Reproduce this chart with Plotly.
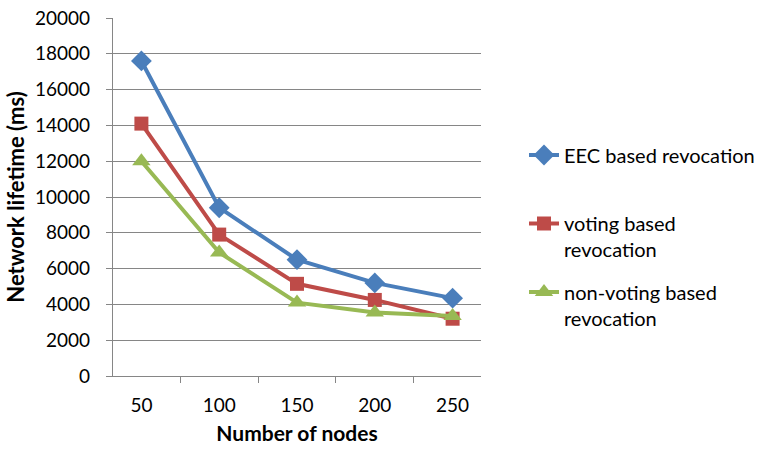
import plotly.graph_objects as go

# Network lifetime vs. number of nodes for three revocation schemes
nodes = ["50", "100", "150", "200", "250"]
eec_based = [17600, 9400, 6500, 5200, 4350]
voting_based = [14100, 7900, 5150, 4250, 3200]
non_voting_based = [12000, 6900, 4100, 3550, 3350]

y_ticks = list(range(0, 20001, 2000))

FONT = "Lato"
GRAY = "#868686"

fig = go.Figure()

series = [
    ("EEC based revocation", eec_based, "#4A7EBB", "diamond", 16, "legend"),
    ("voting based<br>revocation", voting_based, "#BE4B48", "square", 14, "legend2"),
    ("non-voting based<br>revocation", non_voting_based, "#98B954", "triangle-up", 16, "legend3"),
]

for name, vals, color, symbol, size, leg in series:
    fig.add_trace(go.Scatter(
        x=nodes, y=vals, name=name, mode="lines+markers",
        line=dict(color=color, width=4),
        marker=dict(symbol=symbol, size=size, color=color),
        legend=leg,
    ))

W, H = 760, 449
legend_common = dict(
    xref="container", yref="container", xanchor="left", yanchor="middle",
    x=524 / W, bgcolor="rgba(0,0,0,0)", borderwidth=0, valign="top",
    font=dict(family=FONT, size=20, color="#000000"),
)

fig.update_layout(
    width=W, height=H,
    margin=dict(l=113, r=279, t=18, b=73, autoexpand=False),
    paper_bgcolor="white", plot_bgcolor="white",
    font=dict(family=FONT, size=19, color="#000000"),
    showlegend=True,
    legend=dict(**legend_common, y=1 - 155 / H),
    legend2=dict(**legend_common, y=1 - 236.5 / H),
    legend3=dict(**legend_common, y=1 - 305 / H),
    xaxis=dict(
        type="category", tickson="boundaries", ticks="outside", ticklen=6,
        tickcolor=GRAY, showline=True, linecolor=GRAY, linewidth=1.3,
        showgrid=False, zeroline=False, ticklabelstandoff=12, automargin=False,
        tickfont=dict(family=FONT, size=19),
        title=dict(text="<b>Number of nodes</b>", font=dict(family=FONT, size=21), standoff=11),
    ),
    yaxis=dict(
        range=[0, 20000], tickvals=y_ticks, tickformat="d", ticks="outside", ticklen=6,
        tickcolor=GRAY, showline=True, linecolor=GRAY, linewidth=1.3,
        showgrid=True, gridcolor=GRAY, gridwidth=1.3, zeroline=False,
        ticklabelstandoff=12, automargin=False,
        tickfont=dict(family=FONT, size=19),
        title=dict(text="<b>Network lifetime (ms)</b>", font=dict(family=FONT, size=22), standoff=4),
    ),
)

fig.write_html("out.html")
